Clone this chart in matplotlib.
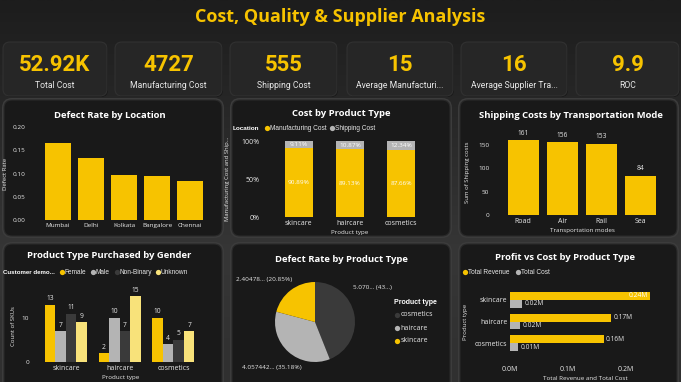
import matplotlib
matplotlib.use("Agg")
import matplotlib.pyplot as plt
import numpy as np
from matplotlib.patches import FancyBboxPatch

plt.rcParams['font.family'] = ['Open Sans', 'DejaVu Sans']

W, H = 681, 382
GOLD = '#F7C300'
GRAY = '#B4B4B4'
DARK = '#3A3A3A'
PALE = '#F8E27A'
TXT = '#E8E8E8'

# ---------------- data ----------------
kpi_values = ['52.92K', '4727', '555', '15', '16', '9.9']
kpi_labels = ['Total Cost', 'Manufacturing Cost', 'Shipping Cost',
              'Average Manufacturi...', 'Average Supplier Tra...', 'ROC']

locations = ['Mumbai', 'Delhi', 'Kolkata', 'Bangalore', 'Chennai']
defect_rate_loc = [0.166, 0.134, 0.097, 0.094, 0.084]

product_types = ['skincare', 'haircare', 'cosmetics']
manuf_pct = [90.89, 89.13, 87.66]
ship_pct = [9.11, 10.87, 12.34]

transport_modes = ['Road', 'Air', 'Rail', 'Sea']
shipping_costs = [161, 156, 153, 84]

genders = ['Female', 'Male', 'Non-Binary', 'Unknown']
gender_counts = {
    'Female': [13, 2, 10],
    'Male': [7, 10, 4],
    'Non-Binary': [11, 7, 5],
    'Unknown': [9, 15, 7],
}

pie_types = ['cosmetics', 'haircare', 'skincare']
pie_values = [5.0705, 4.057442, 2.40478]
pie_labels = ['5.070... (43...)', '4.057442... (35.18%)', '2.40478... (20.85%)']

revenue = [241628, 174455, 161521]
total_cost = [21500, 17700, 13700]
revenue_lbl = ['0.24M', '0.17M', '0.16M']
cost_lbl = ['0.02M', '0.02M', '0.01M']

# ---------------- figure ----------------
fig = plt.figure(figsize=(W / 100, H / 100), dpi=100)
bg = fig.add_axes([0, 0, 1, 1])
bg.set_xlim(0, W)
bg.set_ylim(H, 0)
bg.axis('off')
grad = np.linspace(0, 1, 200)[:, None]
bg.imshow(grad, extent=[0, W, H, 0], cmap=matplotlib.colors.LinearSegmentedColormap.from_list(
    'g', ['#1d1d1d', '#292929', '#363636', '#303030']), aspect='auto', zorder=0)

NARROW = ['Liberation Sans Narrow', 'Roboto', 'DejaVu Sans']
LEGF = ['Liberation Sans', 'DejaVu Sans']


def rbox(x0, y0, x1, y1, fc, ec='none', r=8, z=1):
    p = FancyBboxPatch((x0, y0), x1 - x0, y1 - y0,
                       boxstyle=f"round,pad=0,rounding_size={r}",
                       fc=fc, ec=ec, lw=0.8, zorder=z)
    bg.add_patch(p)


def axpx(x0, y0, x1, y1):
    a = fig.add_axes([x0 / W, 1 - y1 / H, (x1 - x0) / W, (y1 - y0) / H])
    a.set_facecolor('none')
    for s in a.spines.values():
        s.set_visible(False)
    a.tick_params(colors=TXT, labelsize=4.6, length=0, pad=2)
    return a


def legend_item(x, y, color, label, fs=4.7):
    bg.plot([x], [y], 'o', color=color, ms=3.8, mec='none', zorder=5)
    bg.text(x + 2.8, y, label, color=TXT, fontsize=fs, va='center', zorder=5,
            family=LEGF)


# title
bg.text(340.5, 17, 'Cost, Quality & Supplier Analysis', color=GOLD,
        fontsize=13, fontweight='bold', ha='center', va='center', zorder=5)

# KPI cards
cards = [(3, 107), (115, 222), (230, 337), (347, 453), (461, 567), (576, 679)]
for (x0, x1), v, l in zip(cards, kpi_values, kpi_labels):
    rbox(x0 + 1, 43, x1 + 1, 97, '#181818', r=7, z=1)
    rbox(x0, 42, x1, 96, '#262626', ec='#313131', r=7, z=2)
    bg.text((x0 + x1) / 2, 65, v, color=GOLD, fontsize=16, fontweight='bold',
            ha='center', va='center', zorder=5, family=NARROW)
    bg.text((x0 + x1) / 2, 86, l, color=TXT, fontsize=6.2, ha='center',
            va='center', zorder=5, family=NARROW)

# panels
panels = [(4, 100, 222, 236), (232, 100, 450, 236), (460, 100, 677, 236),
          (4, 244, 222, 395), (232, 244, 450, 395), (460, 244, 677, 395)]
for (x0, y0, x1, y1) in panels:
    rbox(x0 - 2, y0 - 2, x1 + 2, y1 + 2, '#3c3c3c', r=10, z=1)
    rbox(x0, y0, x1, y1, '#191919', ec='#2a2a2a', r=8, z=2)

TF = dict(color='white', fontsize=6.8, fontweight='bold', ha='center',
          va='center', zorder=5)
bg.text(110, 115, 'Defect Rate by Location', **TF)
bg.text(341, 114, 'Cost by Product Type', **TF)
bg.text(571, 115, 'Shipping Costs by Transportation Mode', **TF)
bg.text(109, 256, 'Product Type Purchased by Gender', **TF)
bg.text(341, 260, 'Defect Rate by Product Type', **TF)
bg.text(565, 257, 'Profit vs Cost by Product Type', **TF)

# ---- panel 1: defect rate by location
a1 = axpx(38, 127, 210, 220)
x = np.arange(len(locations))
a1.bar(x, defect_rate_loc, width=0.79, color=GOLD)
a1.set_xlim(-0.6, len(locations) - 0.4)
a1.set_ylim(0, 0.20)
a1.set_yticks([0, 0.05, 0.10, 0.15, 0.20])
a1.set_yticklabels(['0.00', '0.05', '0.10', '0.15', '0.20'])
a1.tick_params(axis='y', pad=9)
a1.set_xticks(x)
a1.set_xticklabels(locations)
a1.set_ylabel('Defect Rate', color=TXT, fontsize=4.3, labelpad=3)

# ---- panel 2: cost by product type (100% stacked)
a2 = axpx(262, 141, 438, 217)
x = np.arange(len(product_types))
a2.bar(x, manuf_pct, width=0.55, color=GOLD)
a2.bar(x, ship_pct, bottom=manuf_pct, width=0.55, color=GRAY)
for i in x:
    a2.text(i, manuf_pct[i] / 2, f'{manuf_pct[i]:.2f}%', color='white',
            fontsize=4.6, ha='center', va='center')
    a2.text(i, manuf_pct[i] + ship_pct[i] / 2, f'{ship_pct[i]:.2f}%',
            color='white', fontsize=4.6, ha='center', va='center')
a2.set_xlim(-0.72, 2.72)
a2.set_ylim(0, 100)
a2.set_yticks([0, 50, 100])
a2.set_yticklabels(['0%', '50%', '100%'], fontsize=5)
a2.set_xticks(x)
a2.set_xticklabels(product_types, fontsize=5)
a2.set_xlabel('Product type', color=TXT, fontsize=4.5, labelpad=2)
a2.set_ylabel('Manufacturing Cost and Ship...', color=TXT, fontsize=4.2,
              labelpad=8)
bg.text(233, 128, 'Location', color='white', fontsize=4.6, fontweight='bold',
        va='center', zorder=5, family=LEGF)
legend_item(267, 128, GOLD, 'Manufacturing Cost')
legend_item(332, 128, GRAY, 'Shipping Cost')

# ---- panel 3: shipping costs by transportation mode
a3 = axpx(492, 130, 672, 215)
x = np.arange(len(transport_modes))
a3.bar(x, shipping_costs, width=0.8, color=GOLD)
for i, v in zip(x, shipping_costs):
    a3.text(i, v + 7, str(v), color=TXT, fontsize=4.8, ha='center', va='bottom')
a3.set_xlim(-0.8, 3.8)
a3.set_ylim(0, 182)
a3.set_yticks([0, 50, 100, 150])
a3.set_xticks(x)
a3.set_xticklabels(transport_modes, fontsize=5)
a3.set_xlabel('Transportation modes', color=TXT, fontsize=4.5, labelpad=2)
a3.set_ylabel('Sum of Shipping costs', color=TXT, fontsize=4.3, labelpad=6)

# ---- panel 4: product type by gender
a4 = axpx(32, 290, 210, 362)
x = np.arange(len(product_types))
gcols = [GOLD, GRAY, DARK, PALE]
bw = 0.195
for k, (g, c) in enumerate(zip(genders, gcols)):
    vals = gender_counts[g]
    xs = x + (k - 1.5) * bw
    a4.bar(xs, vals, width=bw, color=c)
    for xi, v in zip(xs, vals):
        a4.text(xi, v + 0.6, str(v), color=TXT, fontsize=4.8, ha='center',
                va='bottom')
a4.set_xlim(-0.63, 2.68)
a4.set_ylim(0, 16.4)
a4.set_yticks([0, 10])
a4.set_xticks(x)
a4.set_xticklabels(product_types, fontsize=5)
a4.set_xlabel('Product type', color=TXT, fontsize=4.5, labelpad=2)
a4.set_ylabel('Count of SKUs', color=TXT, fontsize=4.3, labelpad=4)
bg.text(3, 272, 'Customer demo...', color='white', fontsize=4.4,
        fontweight='bold', va='center', zorder=5, family=LEGF)
lx = [62, 93, 117, 158]
for xx, g, c in zip(lx, genders, gcols):
    legend_item(xx, 272, c, g)

# ---- panel 5: defect rate by product type (pie)
a5 = axpx(275, 282, 355, 362)
pcols = [DARK, GRAY, GOLD]
wedges, _ = a5.pie(pie_values, colors=pcols, startangle=90, counterclock=False,
                   radius=1.0, wedgeprops=dict(lw=0))
a5.set_xlim(-1, 1)
a5.set_ylim(-1, 1)
a5.set_aspect('auto')
bg.text(353, 288, pie_labels[0], color=TXT, fontsize=4.6, ha='left', va='center', zorder=5)
bg.text(242, 368, pie_labels[1], color=TXT, fontsize=4.6, ha='left', va='center', zorder=5)
bg.text(292, 280, pie_labels[2], color=TXT, fontsize=4.6, ha='right', va='center', zorder=5)
bg.text(394, 303, 'Product type', color='white', fontsize=5.0,
        fontweight='bold', va='center', zorder=5, family=LEGF)
for j, (t, c) in enumerate(zip(pie_types, pcols)):
    yy = 315 + j * 13
    bg.plot([397], [yy], 'o', color=c, ms=3.8, mec='none', zorder=5)
    bg.text(400.5, yy, t, color=TXT, fontsize=5, va='center', zorder=5)

# ---- panel 6: profit vs cost horizontal bars
a6 = axpx(510, 285, 660, 358)
y = np.arange(len(product_types))
bh = 0.364
a6.barh(y - bh / 2, revenue, height=bh, color=GOLD)
a6.barh(y + bh / 2, total_cost, height=bh, color=GRAY)
xmax = 259000
for yi, v, l in zip(y, revenue, revenue_lbl):
    if v > 0.85 * xmax:
        a6.text(v - 3000, yi - bh / 2, l, color='white', fontsize=4.8,
                ha='right', va='center')
    else:
        a6.text(v + 4000, yi - bh / 2, l, color=TXT, fontsize=4.8,
                ha='left', va='center')
for yi, v, l in zip(y, total_cost, cost_lbl):
    a6.text(v + 4000, yi + bh / 2, l, color=TXT, fontsize=4.8, ha='left',
            va='center')
a6.set_xlim(0, xmax)
a6.set_ylim(2.68, -0.68)
a6.set_xticks([0, 100000, 200000])
a6.set_xticklabels(['0.0M', '0.1M', '0.2M'], fontsize=5)
a6.tick_params(axis='x', pad=6)
a6.set_yticks(y)
a6.set_yticklabels(product_types, fontsize=5)
a6.set_xlabel('Total Revenue and Total Cost', color=TXT, fontsize=4.5, labelpad=2)
a6.set_ylabel('Product type', color=TXT, fontsize=4.3, labelpad=5)
legend_item(465, 272, GOLD, 'Total Revenue')
legend_item(518, 272, GRAY, 'Total Cost')

fig.savefig('out.png', dpi=100, facecolor='#222222')
